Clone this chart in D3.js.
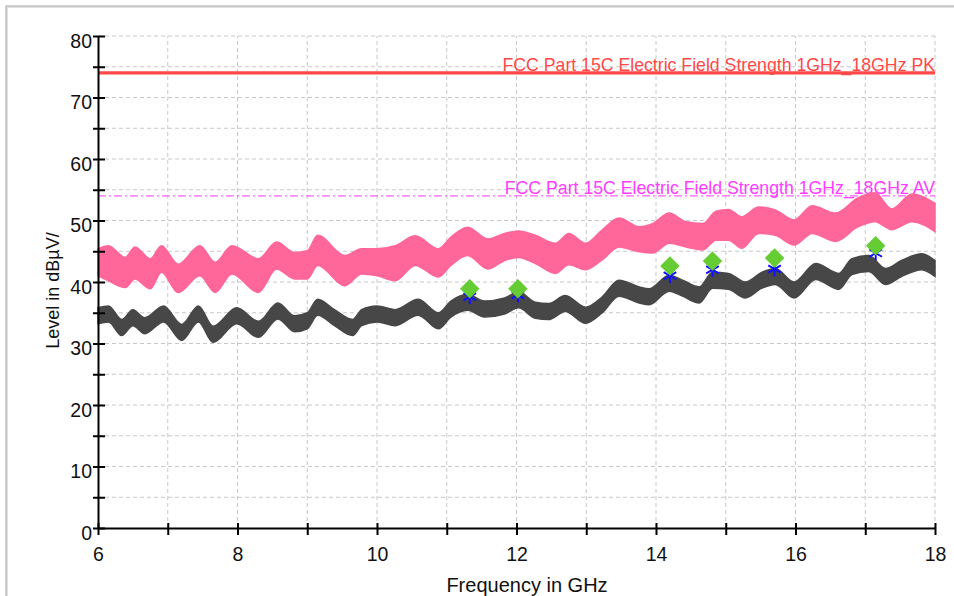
<!DOCTYPE html>
<html>
<head>
<meta charset="utf-8">
<script src="https://cdn.jsdelivr.net/npm/d3@7"></script>
<style>
  body { margin: 0; background: #fff; }
  svg { display: block; font-family: Arial, "Liberation Sans", sans-serif; }
</style>
</head>
<body>
<svg id="chart" width="954" height="596"></svg>
<script>
// peak scan (pink band): frequency in GHz, upper and lower edge in dBuV/m
const peakFreq = [6.0, 6.15, 6.39, 6.53, 6.75, 6.91, 7.15, 7.46, 7.68, 7.92, 8.3, 8.56, 8.82,
  9.0, 9.15, 9.54, 9.78, 10.0, 10.26, 10.55, 10.88, 11.06, 11.3, 11.59, 11.83,
  12.03, 12.27, 12.56, 12.75, 12.99, 13.23, 13.47, 13.76, 13.95, 14.19, 14.43, 14.67, 14.86,
  15.04, 15.23, 15.47, 15.71, 15.98, 16.24, 16.57, 16.9, 17.14, 17.38, 17.67, 18.0];
const peakHi = [45.4, 45.9, 44.0, 45.7, 43.8, 45.9, 42.9, 45.9, 43.2, 45.9, 43.8, 46.5, 44.8,
  45.1, 47.6, 44.3, 45.4, 45.4, 45.9, 47.5, 45.4, 47.3, 48.9, 47.0, 47.9,
  48.3, 47.6, 46.3, 47.9, 46.3, 48.5, 50.4, 49.0, 49.5, 51.2, 49.8, 49.5, 51.5,
  51.8, 50.6, 52.2, 51.7, 50.1, 52.4, 51.2, 53.7, 54.5, 51.9, 54.3, 52.8];
const peakLo = [41.0, 40.2, 39.1, 40.5, 38.9, 41.6, 38.3, 41.0, 38.3, 41.3, 38.3, 42.1, 40.5,
  40.5, 42.7, 39.4, 41.3, 41.0, 40.2, 42.7, 40.8, 42.7, 44.3, 42.1, 43.5,
  44.0, 43.0, 41.4, 42.8, 42.0, 43.6, 45.7, 44.9, 44.7, 46.3, 45.7, 45.2, 46.8,
  46.8, 45.5, 47.9, 47.6, 46.0, 47.9, 46.6, 49.0, 49.8, 48.5, 49.8, 48.2];

// average scan (grey band)
const avgFreq = [6.0, 6.15, 6.34, 6.5, 6.67, 6.94, 7.2, 7.44, 7.65, 7.99, 8.3, 8.58, 8.82,
  9.0, 9.15, 9.39, 9.65, 9.78, 10.0, 10.26, 10.59, 10.88, 11.06, 11.3, 11.54, 11.83,
  12.03, 12.27, 12.46, 12.7, 12.99, 13.23, 13.47, 13.76, 13.9, 14.19, 14.38, 14.62, 14.81,
  15.04, 15.28, 15.52, 15.71, 15.98, 16.29, 16.62, 16.81, 17.05, 17.29, 17.52, 17.81, 18.0];
const avgHi = [35.8, 36.1, 33.9, 35.5, 34.2, 36.1, 33.1, 36.1, 32.8, 35.8, 33.6, 36.6, 34.5,
  35.0, 37.2, 35.5, 33.9, 35.5, 36.1, 35.5, 37.2, 35.0, 36.9, 38.0, 36.9, 37.4,
  38.4, 36.7, 36.5, 37.8, 35.9, 37.6, 40.3, 39.2, 38.9, 41.1, 40.3, 39.2, 41.6,
  41.4, 40.0, 41.6, 42.2, 40.0, 43.0, 41.4, 43.8, 44.3, 42.2, 43.5, 44.6, 43.5];
const avgLo = [33.2, 33.5, 31.3, 32.9, 31.6, 33.5, 30.5, 33.5, 30.2, 33.2, 31.0, 34.0, 31.9,
  32.4, 34.6, 32.9, 31.3, 32.9, 33.5, 32.9, 34.6, 32.4, 34.3, 35.4, 34.3, 34.8,
  35.8, 34.1, 33.9, 35.2, 33.3, 35.0, 37.7, 36.6, 36.3, 38.5, 37.7, 36.6, 39.0,
  38.8, 37.4, 39.0, 39.6, 37.4, 40.4, 38.8, 41.2, 41.7, 39.6, 40.9, 42.0, 40.9];

// final measurements
const markFreq = [11.33, 12.02, 14.2, 14.81, 15.7, 17.15];
const markPeak = [38.9, 38.9, 42.6, 43.4, 43.9, 45.9];
const markAvg = [37.6, 37.9, 41.0, 42.0, 42.1, 44.7];

// limit lines
const limitNames = ["FCC Part 15C Electric Field Strength 1GHz_18GHz PK",
                    "FCC Part 15C Electric Field Strength 1GHz_18GHz AV"];
const limitValues = [74, 54];

const xTicks = [6, 7, 8, 9, 10, 11, 12, 13, 14, 15, 16, 17, 18];
const yTicks = [0, 5, 10, 15, 20, 25, 30, 35, 40, 45, 50, 55, 60, 65, 70, 75, 80];

const svg = d3.select("#chart");
const x = d3.scaleLinear().domain([6, 18]).range([98, 935]);
const y = d3.scaleLinear().domain([0, 80]).range([528, 36]);

// outer frame
svg.append("rect")
  .attr("x", 7).attr("y", 7).attr("width", 1000).attr("height", 1000)
  .attr("fill", "none").attr("stroke", "#e2e2e2").attr("stroke-width", 2);
svg.append("rect")
  .attr("x", 6).attr("y", 6).attr("width", 1000).attr("height", 1000)
  .attr("fill", "none").attr("stroke", "#a8a8a8").attr("stroke-width", 1);

// grid
const grid = svg.append("g").attr("stroke", "#c8c8c8").attr("stroke-dasharray", "4,3");
grid.selectAll("line.h")
  .data(yTicks.filter(d => d > 0))
  .enter().append("line")
  .attr("x1", x(6)).attr("x2", x(18))
  .attr("y1", d => y(d)).attr("y2", d => y(d));
grid.selectAll("line.v")
  .data(xTicks.filter(d => d > 6))
  .enter().append("line")
  .attr("x1", d => x(d)).attr("x2", d => x(d))
  .attr("y1", y(0)).attr("y2", y(80));

// limit lines
svg.append("line")
  .attr("x1", x(6)).attr("x2", x(18))
  .attr("y1", y(limitValues[0])).attr("y2", y(limitValues[0]))
  .attr("stroke", "#ff4848").attr("stroke-width", 3.2);
svg.append("line")
  .attr("x1", x(6)).attr("x2", x(18))
  .attr("y1", y(limitValues[1])).attr("y2", y(limitValues[1]))
  .attr("stroke", "#ff3cff").attr("stroke-width", 1)
  .attr("stroke-dasharray", "8,3,2,3");

svg.append("text")
  .attr("x", x(18)).attr("y", y(limitValues[0]) - 1.5)
  .attr("text-anchor", "end").attr("font-size", 17.7).attr("fill", "#ff4848")
  .text(limitNames[0]);
svg.append("text")
  .attr("x", x(18)).attr("y", y(limitValues[1]) - 1.5)
  .attr("text-anchor", "end").attr("font-size", 17.7).attr("fill", "#ff3cff")
  .text(limitNames[1]);

// scan traces
const peakArea = d3.area()
  .x((d, i) => x(peakFreq[i]))
  .y0((d, i) => y(peakLo[i]))
  .y1((d, i) => y(peakHi[i]))
  .curve(d3.curveMonotoneX);
svg.append("path")
  .attr("d", peakArea(peakFreq))
  .attr("fill", "#ff6699").attr("stroke", "#ff6699").attr("stroke-width", 1.5);

const avgArea = d3.area()
  .x((d, i) => x(avgFreq[i]))
  .y0((d, i) => y(avgLo[i]))
  .y1((d, i) => y(avgHi[i]))
  .curve(d3.curveMonotoneX);
svg.append("path")
  .attr("d", avgArea(avgFreq))
  .attr("fill", "#474747").attr("stroke", "#474747").attr("stroke-width", 1.5);

// final measurement markers
const asterisk = d3.symbol().type(d3.symbolAsterisk || d3.symbolCross).size(150);
svg.append("g").selectAll("path")
  .data(markFreq)
  .enter().append("path")
  .attr("transform", (d, i) => `translate(${x(d)},${y(markAvg[i])})`)
  .attr("d", asterisk())
  .attr("fill", "none").attr("stroke", "#1010ff").attr("stroke-width", 2);

const diamond = d3.symbol().type(d3.symbolSquare).size(190);
svg.append("g").selectAll("path")
  .data(markFreq)
  .enter().append("path")
  .attr("transform", (d, i) => `translate(${x(d)},${y(markPeak[i])}) rotate(45)`)
  .attr("d", diamond())
  .attr("fill", "#66cc33");

// axes
const yAxis = d3.axisLeft(y)
  .tickValues(yTicks)
  .tickFormat(d => d % 10 === 0 ? d : "")
  .tickSize(5).tickSizeOuter(0).tickPadding(2);
const gy = svg.append("g").attr("transform", `translate(${x(6)},0)`).call(yAxis);
gy.select(".domain").attr("stroke-width", 2);
gy.selectAll(".tick line").attr("x1", 7).attr("x2", -5).attr("stroke-width", 2);
gy.selectAll(".tick text")
  .attr("font-size", 19.5).attr("font-family", "Arial, 'Liberation Sans', sans-serif")
  .attr("fill", "#111").attr("y", 5).attr("x", -6);

const xAxis = d3.axisBottom(x)
  .tickValues(xTicks)
  .tickFormat(d => d % 2 === 0 ? d : "")
  .tickSize(7).tickSizeOuter(0);
const gx = svg.append("g").attr("transform", `translate(0,${y(0)})`).call(xAxis);
gx.select(".domain").attr("stroke-width", 2);
gx.selectAll(".tick line").attr("y1", -5).attr("y2", 7).attr("stroke-width", 2);
gx.selectAll(".tick text")
  .attr("font-size", 19.5).attr("font-family", "Arial, 'Liberation Sans', sans-serif")
  .attr("fill", "#111").attr("y", 19);

// axis titles
svg.append("text")
  .attr("x", 527).attr("y", 592)
  .attr("text-anchor", "middle").attr("font-size", 20).attr("fill", "#111")
  .text("Frequency in GHz");
svg.append("text")
  .attr("transform", "translate(58.5,290.5) rotate(-90)")
  .attr("text-anchor", "middle").attr("font-size", 18).attr("fill", "#111")
  .text("Level in dBµV/");
</script>
</body>
</html>
